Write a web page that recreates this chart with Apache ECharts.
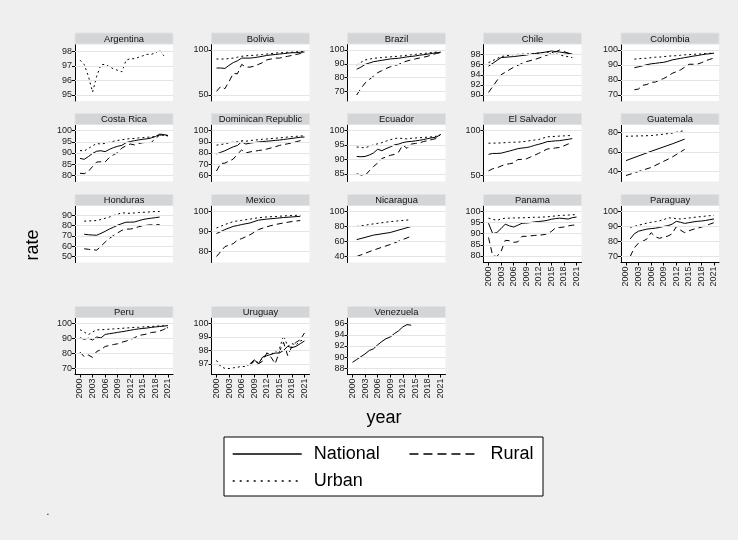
<!DOCTYPE html>
<html>
<head>
<meta charset="utf-8">
<script src="https://cdn.jsdelivr.net/npm/echarts@6/dist/echarts.min.js"></script>
<style>
  html, body { margin: 0; padding: 0; background: #efefef; }
  #chart { width: 738px; height: 540px; }
</style>
</head>
<body>
<div id="chart"></div>
<script>
// ---- Data: [year, rate] pairs per country and area ----
const argentinaUrban = [[2000,97.4],[2001,97.1],[2002,96.3],[2003,95.2],[2004,96.3],[2005,97.1],[2006,97.1],[2007,96.95],[2008,96.8],[2009,96.7],[2010,96.6],[2011,97.4],[2012,97.5],[2013,97.5],[2014,97.6],[2015,97.7],[2016,97.8],[2017,97.8],[2018,97.9],[2019,98.1],[2020,97.7]];

const boliviaNational = [[2000,80],[2001,80],[2002,79.5],[2003,83],[2004,86],[2005,88],[2006,91],[2007,91],[2008,91],[2009,91.5],[2011,93],[2012,94],[2013,94.5],[2014,95],[2015,95.5],[2016,96],[2017,96.5],[2018,97],[2019,97],[2020,97.5],[2021,97.8]];
const boliviaRural = [[2000,54],[2001,59.5],[2002,57],[2003,65],[2004,74],[2005,73.5],[2006,84],[2007,81],[2008,81],[2009,82],[2011,86],[2012,89],[2013,90],[2014,91],[2015,91],[2016,92],[2017,93],[2018,94],[2019,95],[2020,96],[2021,96.8]];
const boliviaUrban = [[2000,90],[2001,90],[2002,90],[2003,90.5],[2004,91],[2005,92],[2006,93],[2007,93.5],[2008,94],[2009,94],[2011,95],[2012,95.5],[2013,96],[2014,96.5],[2015,97],[2016,97],[2017,97.5],[2018,97.5],[2019,98],[2020,98],[2021,98.2]];

const brazilNational = [[2001,86],[2002,87.5],[2003,89.5],[2004,90.5],[2005,91.5],[2006,92],[2007,92.5],[2008,93],[2009,93.5],[2011,94],[2012,94.5],[2013,95],[2014,95.3],[2015,95.7],[2016,96.2],[2017,96.6],[2018,97],[2019,97.5],[2020,98],[2021,98.2]];
const brazilRural = [[2001,67.3],[2002,72],[2003,76],[2004,78.5],[2005,81],[2006,83.5],[2007,85],[2008,86.5],[2009,87.8],[2011,89.5],[2012,91],[2013,92],[2014,92.8],[2015,93.5],[2016,94.2],[2017,94.8],[2018,95.5],[2019,96.5],[2020,97.5],[2021,98]];
const brazilUrban = [[2001,89],[2002,91],[2003,92.8],[2004,93.3],[2005,94],[2006,94.2],[2007,94.5],[2008,94.8],[2009,95],[2011,95.5],[2012,95.8],[2013,96.2],[2014,96.5],[2015,96.8],[2016,97.2],[2017,97.5],[2018,97.8],[2019,98.2],[2020,98.5],[2021,98.6]];

const chileNational = [[2000,95.7],[2003,97.4],[2006,97.6],[2009,97.9],[2011,98.2],[2013,98.4],[2015,98.7],[2017,98.5],[2020,98.1]];
const chileRural = [[2000,90.5],[2003,94.0],[2006,95.5],[2009,96.6],[2011,97.0],[2013,97.6],[2015,98.2],[2017,98.9],[2020,98.0]];
const chileUrban = [[2000,96.4],[2003,97.6],[2006,98.0],[2009,98.1],[2011,98.2],[2013,98.4],[2015,98.5],[2017,97.9],[2020,97.4]];

const colombiaNational = [[2002,88.2],[2003,88.8],[2004,89.5],[2005,90.2],[2006,90.8],[2007,91.1],[2008,91.5],[2009,91.8],[2010,92.5],[2011,93.4],[2012,93.9],[2013,94.4],[2014,94.9],[2015,95.4],[2016,95.9],[2017,96.3],[2018,96.8],[2019,97.2],[2020,97.5],[2021,97.9]];
const colombiaRural = [[2002,73.5],[2003,74],[2004,76.5],[2005,77],[2006,78.5],[2007,78.6],[2008,80],[2009,81],[2010,82.5],[2011,84.4],[2012,85.5],[2013,86.7],[2014,88.5],[2015,90.5],[2016,90.5],[2017,90.6],[2018,91.5],[2019,92.8],[2020,93.8],[2021,94.6]];
const colombiaUrban = [[2002,93.9],[2003,94.2],[2004,94.4],[2005,94.5],[2006,94.9],[2007,95.2],[2008,95.3],[2009,95.6],[2010,95.9],[2011,96.1],[2012,96.2],[2013,96.5],[2014,96.8],[2015,96.9],[2016,97.1],[2017,97.3],[2018,97.4],[2019,97.7],[2020,97.8],[2021,98.0]];

const costaRicaNational = [[2000,87.6],[2001,87.2],[2002,88.4],[2003,89.8],[2004,90.8],[2005,91.0],[2006,90.6],[2007,91.6],[2008,92.4],[2009,93.0],[2010,93.4],[2011,94.6],[2012,95.1],[2013,95.5],[2014,95.8],[2015,96.1],[2016,96.3],[2017,96.7],[2018,97.3],[2019,98.4],[2020,98.2],[2021,97.8]];
const costaRicaRural = [[2000,81],[2001,80.8],[2002,81.8],[2003,84],[2004,86],[2005,86.1],[2006,86],[2007,88],[2008,89.2],[2009,90.2],[2010,92.2],[2011,93.2],[2012,94],[2013,93.6],[2014,94.2],[2015,94.6],[2016,94.6],[2017,94.7],[2018,96.4],[2019,98],[2020,97.8],[2021,97.7]];
const costaRicaUrban = [[2000,91.1],[2001,90.9],[2002,92],[2003,93.2],[2004,94.2],[2005,94.0],[2006,94.3],[2007,94.8],[2008,95.2],[2009,95.6],[2010,95.9],[2011,96.2],[2012,96.4],[2013,96.5],[2014,96.7],[2015,96.8],[2016,97.0],[2017,97.1],[2018,97.4],[2019,97.9],[2020,97.8],[2021,97.6]];

const dominicanNational = [[2000,79.1],[2001,80.6],[2002,82],[2003,83.8],[2004,85.5],[2005,86.7],[2006,90],[2007,88],[2008,88.8],[2009,89.3],[2010,89.8],[2011,90.2],[2012,90.5],[2013,90.8],[2014,91.2],[2015,91.5],[2016,92],[2017,92.5],[2018,93],[2019,93.5],[2020,94],[2021,94.2]];
const dominicanRural = [[2000,64],[2001,70.7],[2002,71],[2003,72.8],[2004,74.6],[2005,79],[2006,82.7],[2007,80],[2008,81],[2009,81.5],[2010,82.2],[2011,82.7],[2012,83.5],[2013,84.5],[2014,85.5],[2015,86.7],[2016,87.5],[2017,88.2],[2018,89],[2019,90],[2020,91],[2021,92]];
const dominicanUrban = [[2000,87],[2001,87.5],[2002,88.2],[2003,89],[2004,89.6],[2005,90],[2006,91],[2007,90.5],[2008,91],[2009,91.5],[2010,91.8],[2011,92.2],[2012,92.5],[2013,92.8],[2014,93.1],[2015,93.4],[2016,93.8],[2017,94.2],[2018,94.5],[2019,94.8],[2020,95.1],[2021,95.3]];

const ecuadorNational = [[2001,91],[2002,90.9],[2003,91],[2004,91.5],[2005,92.2],[2006,93.5],[2007,93],[2008,93.7],[2009,94.3],[2010,95],[2011,95.3],[2012,95.8],[2013,96.1],[2014,96.2],[2015,96.4],[2016,96.6],[2017,96.9],[2018,97.2],[2019,97.5],[2020,97.7],[2021,98.6]];
const ecuadorRural = [[2001,85],[2002,84.6],[2003,84.4],[2004,86],[2005,87.5],[2006,88.7],[2007,90.3],[2008,90.8],[2009,91.4],[2010,91.7],[2011,92.5],[2012,95],[2013,93.8],[2014,95.3],[2015,95.5],[2016,95.7],[2017,96.2],[2018,96.5],[2019,96.9],[2020,97.2],[2021,98.6]];
const ecuadorUrban = [[2001,94.3],[2002,94.1],[2003,94],[2004,94.5],[2005,95],[2006,95.4],[2007,95.8],[2008,96.3],[2009,96.8],[2010,97.2],[2011,97.4],[2012,97.2],[2013,97.1],[2014,97.3],[2015,97.4],[2016,97.5],[2017,97.6],[2018,97.7],[2019,97.8],[2020,98],[2021,98.6]];

const elSalvadorNational = [[2000,73.5],[2001,74.5],[2002,74.5],[2003,74.8],[2004,76],[2005,77.2],[2006,78.5],[2007,79.8],[2008,80.5],[2009,81],[2010,82],[2011,83.5],[2012,84.7],[2013,86],[2014,87.6],[2015,88],[2016,88.5],[2017,88.7],[2018,89.5],[2019,90.2],[2020,91]];
const elSalvadorRural = [[2000,55.1],[2001,57.5],[2002,58.5],[2003,60.5],[2004,62.4],[2005,63],[2006,64],[2007,67.7],[2008,68],[2009,68.4],[2010,70.5],[2011,72.5],[2012,74.7],[2013,77],[2014,79.4],[2015,80],[2016,80.6],[2017,81.2],[2018,83],[2019,85],[2020,86.5]];
const elSalvadorUrban = [[2000,85.9],[2001,86],[2002,86],[2003,86.2],[2004,86.5],[2005,86.8],[2006,87],[2007,87],[2008,87.5],[2009,88],[2010,88.8],[2011,89.4],[2012,90],[2013,91.5],[2014,93],[2015,93.2],[2016,93.5],[2017,93.8],[2018,94],[2019,94.3],[2020,94.5]];

const guatemalaNational = [[2000,51],[2006,60.5],[2011,68],[2014,72.9]];
const guatemalaRural = [[2000,35.8],[2006,44],[2011,54.5],[2014,62.5]];
const guatemalaUrban = [[2000,75.8],[2006,76.5],[2011,79],[2014,81.7]];

const hondurasNational = [[2001,71.7],[2002,71.2],[2003,70.9],[2004,70.7],[2005,72.5],[2006,74.5],[2007,76.7],[2008,78.5],[2009,80.5],[2010,82],[2011,83.4],[2012,83.4],[2013,83.6],[2014,84.8],[2015,86],[2016,86.7],[2017,87.3],[2018,87.8],[2019,88.4]];
const hondurasRural = [[2001,57.5],[2002,57],[2003,56.5],[2004,56.2],[2005,60],[2006,64],[2007,67.5],[2008,70.5],[2009,73],[2010,75.5],[2011,76.7],[2012,76.7],[2013,77.5],[2014,79],[2015,80],[2016,80.5],[2017,80.8],[2018,81],[2019,81]];
const hondurasUrban = [[2001,84.4],[2002,84.6],[2003,84.8],[2004,85],[2005,86],[2006,87.2],[2007,88.4],[2008,89.8],[2009,91.2],[2010,92.6],[2011,92.2],[2012,92],[2013,92.4],[2014,92.8],[2015,93],[2016,93.2],[2017,93.5],[2018,93.8],[2019,93.8]];

const mexicoNational = [[2000,89],[2002,91],[2004,92.6],[2005,93],[2006,93.5],[2008,94.3],[2010,95.7],[2012,96.2],[2014,96.6],[2016,97],[2018,97.3],[2020,97.6]];
const mexicoRural = [[2000,77.6],[2002,82.5],[2004,84],[2005,85.8],[2006,86.5],[2008,88.4],[2010,91],[2012,92.4],[2014,93.5],[2016,94.3],[2018,95],[2020,95.5]];
const mexicoUrban = [[2000,91.8],[2002,93.5],[2004,95],[2005,95.3],[2006,95.6],[2008,96.2],[2010,96.9],[2012,97.3],[2014,97.5],[2016,97.8],[2018,98],[2020,98.2]];

const nicaraguaNational = [[2001,62.5],[2005,68.5],[2009,72],[2014,80]];
const nicaraguaRural = [[2001,40],[2005,48.5],[2009,56],[2014,67]];
const nicaraguaUrban = [[2001,80],[2005,83.5],[2009,86.5],[2014,89.1]];

const panamaNational = [[2000,94.7],[2001,90],[2002,90.5],[2003,92.3],[2004,94.3],[2005,93.5],[2006,93],[2007,93.8],[2008,94.7],[2009,94.8],[2010,95],[2011,95.3],[2012,95.5],[2013,95.7],[2014,96],[2015,96.5],[2016,96.8],[2017,97],[2018,96.8],[2019,96.6],[2020,97.2],[2021,97.5]];
const panamaRural = [[2000,88.3],[2001,80],[2002,79.7],[2003,82],[2004,87],[2005,86.8],[2006,86.1],[2007,86.3],[2008,88.8],[2009,88.8],[2010,89],[2011,89.2],[2012,89.3],[2013,89.5],[2014,89.9],[2015,91],[2016,92.6],[2017,92.8],[2018,93],[2019,93.5],[2020,93.8],[2021,94]];
const panamaUrban = [[2000,97],[2001,96.5],[2002,96],[2003,96.6],[2004,97],[2005,97],[2006,97.1],[2007,97.1],[2008,97.2],[2009,97.2],[2010,97.3],[2011,97.4],[2012,97.4],[2013,97.5],[2014,97.6],[2015,97.8],[2016,98],[2017,98.2],[2018,98.3],[2019,98.4],[2020,98.5],[2021,98.6]];

const paraguayNational = [[2001,81.6],[2002,85.1],[2003,86.8],[2004,87.5],[2005,88.2],[2006,88.5],[2007,88.8],[2008,89.3],[2009,90],[2010,90.5],[2011,91.5],[2012,93.4],[2013,92.8],[2014,92],[2015,92.5],[2016,93],[2017,93.4],[2018,93.6],[2019,94],[2020,94.5],[2021,95]];
const paraguayRural = [[2001,69.8],[2002,75.7],[2003,78.8],[2004,80],[2005,81.6],[2006,85.8],[2007,83],[2008,82],[2009,82.9],[2010,83.5],[2011,85],[2012,89.8],[2013,87.5],[2014,85.8],[2015,87],[2016,88],[2017,88.8],[2018,89.5],[2019,90.5],[2020,91.5],[2021,92.5]];
const paraguayUrban = [[2001,89.4],[2002,90],[2003,90.8],[2004,91.5],[2005,92.2],[2006,92.8],[2007,93.2],[2008,93.8],[2009,94.5],[2010,95.8],[2011,95.6],[2012,95.2],[2013,95],[2014,95.3],[2015,95.6],[2016,96],[2017,96.3],[2018,96.6],[2019,96.9],[2020,97.2],[2021,97.4]];

const peruNational = [[2000,90.5],[2001,89.5],[2002,90.2],[2003,89],[2004,91],[2005,90.4],[2006,92.7],[2007,93.2],[2008,93.6],[2009,94.1],[2010,94.5],[2011,95],[2012,95.5],[2013,96],[2014,96.4],[2015,96.7],[2016,97],[2017,97.4],[2018,97.7],[2019,98],[2020,98.3],[2021,98.6]];
const peruRural = [[2000,80.9],[2001,77.9],[2002,79],[2003,77.4],[2004,81.4],[2005,82.5],[2006,84.7],[2007,85.3],[2008,86],[2009,86.5],[2010,87.5],[2011,88.3],[2012,89.2],[2013,90.5],[2014,92],[2015,92.5],[2016,93],[2017,94],[2018,94.3],[2019,95],[2020,96],[2021,97.7]];
const peruUrban = [[2000,95.9],[2001,94.3],[2002,92.6],[2003,94.3],[2004,95.8],[2005,95.8],[2006,96],[2007,96.2],[2008,96.4],[2009,96.6],[2010,96.8],[2011,97],[2012,97.2],[2013,97.4],[2014,97.5],[2015,97.7],[2016,97.9],[2017,98],[2018,98.2],[2019,98.4],[2020,98.5],[2021,97]];

const uruguayNational = [[2008,97.0],[2009,97.3],[2010,97.0],[2011,97.5],[2012,97.6],[2013,97.7],[2014,97.8],[2015,97.8],[2016,98.0],[2017,98.3],[2018,98.2],[2019,98.3],[2020,98.5],[2021,98.7]];
const uruguayRural = [[2008,96.9],[2009,97.2],[2010,97.0],[2011,97.2],[2012,97.8],[2013,97.5],[2014,97.0],[2015,97.9],[2016,98.6],[2017,97.6],[2018,98.3],[2019,98.6],[2020,98.8],[2021,99.3]];
const uruguayUrban = [[2000,97.25],[2001,96.8],[2002,96.66],[2003,96.65],[2004,96.7],[2005,96.75],[2006,96.8],[2007,96.8],[2008,97.0],[2009,97.2],[2010,97.1],[2011,97.4],[2012,97.8],[2013,97.7],[2014,97.9],[2015,98.1],[2016,99.1],[2017,98.3],[2018,98.5],[2019,98.4],[2020,98.7],[2021,98.8]];

const venezuelaNational = [[2000,89.1],[2001,89.6],[2002,90.1],[2003,90.6],[2004,91.2],[2005,91.5],[2006,92.2],[2007,92.8],[2008,93.3],[2009,93.6],[2010,94.2],[2011,94.7],[2012,95.4],[2013,95.8],[2014,95.7]];

// ---- Axis tick labels ----
const yearTicks = [2000, 2003, 2006, 2009, 2012, 2015, 2018, 2021];
const argentinaTicks = [95, 96, 97, 98];
const boliviaTicks = [50, 100];
const brazilTicks = [70, 80, 90, 100];
const chileTicks = [90, 92, 94, 96, 98];
const colombiaTicks = [70, 80, 90, 100];
const costaRicaTicks = [80, 85, 90, 95, 100];
const dominicanTicks = [60, 70, 80, 90, 100];
const ecuadorTicks = [85, 90, 95, 100];
const elSalvadorTicks = [50, 100];
const guatemalaTicks = [40, 60, 80];
const hondurasTicks = [50, 60, 70, 80, 90];
const mexicoTicks = [80, 90, 100];
const nicaraguaTicks = [40, 60, 80, 100];
const panamaTicks = [80, 85, 90, 95, 100];
const paraguayTicks = [70, 80, 90, 100];
const peruTicks = [70, 80, 90, 100];
const uruguayTicks = [97, 98, 99, 100];
const venezuelaTicks = [88, 90, 92, 94, 96];

// ---- Panels (row, column in the 5-wide layout) ----
const panels = [
  { title: 'Argentina', row: 0, col: 0, ticks: argentinaTicks, national: [], rural: [], urban: argentinaUrban },
  { title: 'Bolivia', row: 0, col: 1, ticks: boliviaTicks, national: boliviaNational, rural: boliviaRural, urban: boliviaUrban },
  { title: 'Brazil', row: 0, col: 2, ticks: brazilTicks, national: brazilNational, rural: brazilRural, urban: brazilUrban },
  { title: 'Chile', row: 0, col: 3, ticks: chileTicks, national: chileNational, rural: chileRural, urban: chileUrban },
  { title: 'Colombia', row: 0, col: 4, ticks: colombiaTicks, national: colombiaNational, rural: colombiaRural, urban: colombiaUrban },
  { title: 'Costa Rica', row: 1, col: 0, ticks: costaRicaTicks, national: costaRicaNational, rural: costaRicaRural, urban: costaRicaUrban },
  { title: 'Dominican Republic', row: 1, col: 1, ticks: dominicanTicks, national: dominicanNational, rural: dominicanRural, urban: dominicanUrban },
  { title: 'Ecuador', row: 1, col: 2, ticks: ecuadorTicks, national: ecuadorNational, rural: ecuadorRural, urban: ecuadorUrban },
  { title: 'El Salvador', row: 1, col: 3, ticks: elSalvadorTicks, national: elSalvadorNational, rural: elSalvadorRural, urban: elSalvadorUrban },
  { title: 'Guatemala', row: 1, col: 4, ticks: guatemalaTicks, national: guatemalaNational, rural: guatemalaRural, urban: guatemalaUrban },
  { title: 'Honduras', row: 2, col: 0, ticks: hondurasTicks, national: hondurasNational, rural: hondurasRural, urban: hondurasUrban },
  { title: 'Mexico', row: 2, col: 1, ticks: mexicoTicks, national: mexicoNational, rural: mexicoRural, urban: mexicoUrban },
  { title: 'Nicaragua', row: 2, col: 2, ticks: nicaraguaTicks, national: nicaraguaNational, rural: nicaraguaRural, urban: nicaraguaUrban },
  { title: 'Panama', row: 2, col: 3, ticks: panamaTicks, national: panamaNational, rural: panamaRural, urban: panamaUrban, xAxis: true },
  { title: 'Paraguay', row: 2, col: 4, ticks: paraguayTicks, national: paraguayNational, rural: paraguayRural, urban: paraguayUrban, xAxis: true },
  { title: 'Peru', row: 3, col: 0, ticks: peruTicks, national: peruNational, rural: peruRural, urban: peruUrban, xAxis: true },
  { title: 'Uruguay', row: 3, col: 1, ticks: uruguayTicks, national: uruguayNational, rural: uruguayRural, urban: uruguayUrban, xAxis: true },
  { title: 'Venezuela', row: 3, col: 2, ticks: venezuelaTicks, national: venezuelaNational, rural: [], urban: [], xAxis: true }
];

// ---- Layout ----
const FONT = '"Liberation Sans", Arial, Helvetica, sans-serif';
const COL_LEFT = [75, 211.5, 347.5, 483.5, 621];
const ROW_TOP = [33, 113.5, 194.5, 306.5];
const STRIP_H = 11, PLOT_W = 98, PLOT_H = 57;
const YPAD = 6, XPAD = 5;
const xSpan = yearTicks[yearTicks.length - 1] - yearTicks[0];
const xMin = yearTicks[0] - XPAD * xSpan / (PLOT_W - 2 * XPAD);
const xMax = yearTicks[yearTicks.length - 1] + XPAD * xSpan / (PLOT_W - 2 * XPAD);

const STYLE = {
  National: { type: 'solid' },
  Rural: { type: [6, 4] },
  Urban: { type: [2, 3] }
};

const grids = [], xAxes = [], yAxes = [], series = [], graphics = [];

panels.forEach((p, i) => {
  const left = COL_LEFT[p.col];
  const top = ROW_TOP[p.row] + STRIP_H;
  const vals = [].concat(p.national, p.rural, p.urban).map(d => d[1]).concat(p.ticks);
  const lo = Math.min.apply(null, vals), hi = Math.max.apply(null, vals);
  const pad = YPAD * (hi - lo) / (PLOT_H - 2 * YPAD);

  grids.push({ left: left, top: top, width: PLOT_W, height: PLOT_H, show: true,
    backgroundColor: '#ffffff', borderWidth: 0, containLabel: false });

  xAxes.push({
    type: 'value', gridIndex: i, min: xMin, max: xMax, show: !!p.xAxis,
    axisLine: { show: true, onZero: false, lineStyle: { color: '#000', width: 1 } },
    axisTick: { show: true, length: 3, customValues: yearTicks, lineStyle: { color: '#000', width: 1 } },
    axisLabel: { show: true, rotate: 90, customValues: yearTicks, fontSize: 9, color: '#222',
      fontFamily: FONT, margin: 4, formatter: v => String(v) },
    splitLine: { show: false }
  });

  yAxes.push({
    type: 'value', gridIndex: i, min: lo - pad, max: hi + pad,
    axisLine: { show: true, onZero: false, lineStyle: { color: '#000', width: 1 } },
    axisTick: { show: true, length: 3, customValues: p.ticks, lineStyle: { color: '#000', width: 1 } },
    axisLabel: { show: true, customValues: p.ticks, fontSize: 9, color: '#222',
      fontFamily: FONT, margin: 3, formatter: v => String(v) },
    splitLine: { show: false }
  });

  // horizontal grid lines at the labelled ticks
  series.push({
    type: 'line', xAxisIndex: i, yAxisIndex: i, data: [], silent: true, z: 1,
    markLine: { silent: true, symbol: 'none', animation: false, label: { show: false },
      lineStyle: { color: '#e4e4e4', width: 1, type: 'solid' },
      data: p.ticks.map(t => ({ yAxis: t })) }
  });

  [['National', p.national], ['Rural', p.rural], ['Urban', p.urban]].forEach(([name, data]) => {
    if (!data.length) return;
    series.push({
      name: name, type: 'line', xAxisIndex: i, yAxisIndex: i, data: data,
      symbol: 'none', showSymbol: false, z: 2, silent: true,
      itemStyle: { color: '#000' },
      lineStyle: { color: '#000', width: 1, type: STYLE[name].type }
    });
  });

  // panel strip with country name
  graphics.push({
    type: 'rect', silent: true, z: 10,
    shape: { x: left, y: ROW_TOP[p.row], width: PLOT_W, height: STRIP_H },
    style: { fill: '#d5d5d5', stroke: '#dce5ec', lineWidth: 1 }
  });
  graphics.push({
    type: 'text', silent: true, z: 11,
    style: { text: p.title, x: left + PLOT_W / 2, y: ROW_TOP[p.row] + STRIP_H / 2 + 0.5,
      align: 'center', verticalAlign: 'middle', font: '9.4px ' + FONT, fill: '#111' }
  });
});

// axis titles, legend frame and note
graphics.push({ type: 'text', silent: true,
  style: { text: 'rate', x: 33, y: 245, align: 'center', verticalAlign: 'middle',
    font: '18px ' + FONT, fill: '#000' }, rotation: Math.PI / 2, originX: 33, originY: 245 });
graphics.push({ type: 'text', silent: true,
  style: { text: 'year', x: 384, y: 418, align: 'center', verticalAlign: 'middle',
    font: '18px ' + FONT, fill: '#000' } });
graphics.push({ type: 'rect', silent: true, z: -1,
  shape: { x: 224, y: 437, width: 319, height: 59 },
  style: { fill: '#ffffff', stroke: '#000', lineWidth: 1 } });
graphics.push({ type: 'text', silent: true,
  style: { text: '.', x: 48, y: 512, align: 'center', verticalAlign: 'middle',
    font: '10px ' + FONT, fill: '#000' } });

const legendText = { fontSize: 18, color: '#000', fontFamily: FONT, padding: [0, 0, 0, 7] };
const legendBase = { orient: 'horizontal', itemWidth: 69, itemHeight: 12, padding: 0,
  selectedMode: false, textStyle: legendText, itemStyle: { opacity: 0 } };
const option = {
  animation: false,
  backgroundColor: '#efefef',
  grid: grids,
  xAxis: xAxes,
  yAxis: yAxes,
  series: series,
  graphic: graphics,
  legend: [
    Object.assign({}, legendBase, { left: 232, top: 445, itemGap: 29,
      data: [
        { name: 'National', lineStyle: { type: 'solid', width: 1.4, color: '#000' } },
        { name: 'Rural', lineStyle: { type: [9, 5], width: 1.4, color: '#000' } }
      ] }),
    Object.assign({}, legendBase, { left: 232, top: 472,
      data: [ { name: 'Urban', lineStyle: { type: [2, 5], width: 1.4, color: '#000' } } ] })
  ]
};

const chart = echarts.init(document.getElementById('chart'), null, { renderer: 'canvas' });
chart.setOption(option);
</script>
</body>
</html>
